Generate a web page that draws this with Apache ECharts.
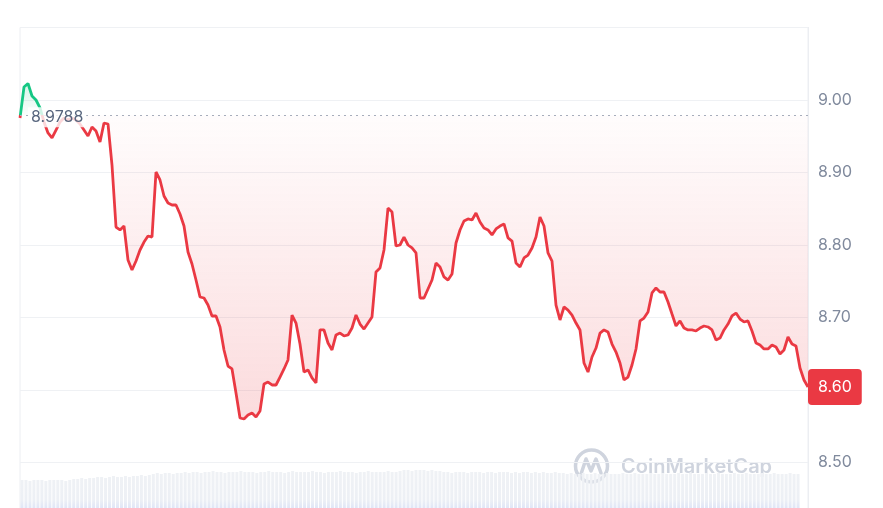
<!DOCTYPE html>
<html><head><meta charset="utf-8">
<script src="https://cdn.jsdelivr.net/npm/echarts@6/dist/echarts.min.js"></script>
<style>html,body{margin:0;padding:0;background:#fff}#c{width:883px;height:508px}</style>
</head><body><div id="c"></div>
<script>
// price values (one every ~4px of the original chart)
const prices = [
8.9752, 9.0179, 9.0228, 9.0055, 9.0000, 8.9890, 8.9697, 8.9545, 8.9476, 8.9586,
8.9697, 8.9752, 8.9724, 8.9752, 8.9724, 8.9669, 8.9586, 8.9503, 8.9628, 8.9572,
8.9421, 8.9683, 8.9669, 8.9103, 8.8248, 8.8207, 8.8262, 8.7793, 8.7655, 8.7779,
8.7931, 8.8041, 8.8124, 8.8110, 8.9007, 8.8897, 8.8676, 8.8579, 8.8552, 8.8552,
8.8428, 8.8262, 8.7903, 8.7738, 8.7517, 8.7283, 8.7269, 8.7172, 8.7021, 8.7021,
8.6869, 8.6552, 8.6331, 8.6290, 8.5959, 8.5614, 8.5600, 8.5655, 8.5683, 8.5628,
8.5710, 8.6083, 8.6110, 8.6069, 8.6069, 8.6179, 8.6290, 8.6414, 8.7034, 8.6924,
8.6634, 8.6248, 8.6276, 8.6166, 8.6097, 8.6828, 8.6828, 8.6648, 8.6552, 8.6759,
8.6786, 8.6745, 8.6759, 8.6855, 8.7034, 8.6910, 8.6841, 8.6924, 8.7007, 8.7628,
8.7683, 8.7931, 8.8510, 8.8455, 8.7986, 8.8000, 8.8110, 8.8000, 8.7959, 8.7890,
8.7269, 8.7269, 8.7393, 8.7517, 8.7752, 8.7697, 8.7559, 8.7517, 8.7600, 8.8028,
8.8207, 8.8331, 8.8359, 8.8345, 8.8441, 8.8317, 8.8234, 8.8207, 8.8138, 8.8221,
8.8262, 8.8290, 8.8097, 8.8055, 8.7752, 8.7697, 8.7821, 8.7862, 8.7959, 8.8110,
8.8386, 8.8262, 8.7890, 8.7779, 8.7172, 8.6966, 8.7145, 8.7103, 8.7034, 8.6924,
8.6828, 8.6372, 8.6248, 8.6455, 8.6579, 8.6786, 8.6828, 8.6800, 8.6634, 8.6524,
8.6372, 8.6138, 8.6179, 8.6345, 8.6566, 8.6952, 8.6993, 8.7076, 8.7338, 8.7407,
8.7352, 8.7352, 8.7214, 8.7048, 8.6883, 8.6952, 8.6855, 8.6828, 8.6828, 8.6814,
8.6855, 8.6883, 8.6869, 8.6828, 8.6690, 8.6717, 8.6828, 8.6910, 8.7021, 8.7062,
8.6979, 8.6938, 8.6952, 8.6814, 8.6648, 8.6621, 8.6566, 8.6566, 8.6621, 8.6593,
8.6497, 8.6552, 8.6731, 8.6634, 8.6607, 8.6303, 8.6138, 8.6042
];
// volume values (relative units)
const volumes = [
28,28,27,28,28,28,27,28,28,28,28,27,28,
29,29,30,29,30,30,
31,31,30,31,32,31,31,32,31,32,32,33,32,33,
34,35,34,35,35,34,35,35,36,35,
36,36,35,36,36,37,36,36,35,36, 36,36,37,36,36,36,35,36,36,37,
36,36,36,35,36,37,36,36,36,36, 37,36,36,35,36,36,36,37,36,36,
36,35,36,36,37,36,36,36,36,37, 36,36,37,
38,38,37,38,38,38,37,38,37,37,
36,36,35,36,36,36,35,36,36,36, 35,36,36,35,36,36,36,35,36,35,
36,36,35,36,35,36,35,35,36,35,
35,34,35,34,34,35,34,34,35,34, 34,35,34,34,34,35,34,34,35,34,
34,34,35,34,34,35,34,34,34,35, 34,34,35,34,34,34,35,34,34,35,
34,34,34,35,34,34,35,34,34,34, 35,34,34,35,34,34,34,35,34,34,
0,0
];
const baseline = 8.9788;
const yMin = 8.4, yMax = 9.1, yInterval = 0.1;
const categories = prices.map((_, i) => i);
const lastPrice = prices[prices.length - 1];

const RED = '#ea3943', GREEN = '#16c784';
const chart = echarts.init(document.getElementById('c'));

const option = {
  animation: false,
  grid: [
    {left: 20, right: 75, top: 27.5, height: 507.5, outerBoundsMode: 'none', containLabel: false,
     show: true, borderColor: '#eceef2', borderWidth: 1},
    {left: 20, right: 75, top: 460, height: 48, outerBoundsMode: 'none', containLabel: false}
  ],
  xAxis: [
    {type: 'category', data: categories, boundaryGap: false, show: false, gridIndex: 0},
    {type: 'category', data: categories, boundaryGap: true, show: false, gridIndex: 1}
  ],
  yAxis: [
    {type: 'value', gridIndex: 0, position: 'right', min: yMin, max: yMax, interval: yInterval,
     axisLine: {show: true, lineStyle: {color: '#eceef2'}}, axisTick: {show: false},
     splitLine: {lineStyle: {color: '#eff1f4', width: 1}},
     axisLabel: {margin: 10, color: '#808a9d', fontSize: 16, fontFamily: 'Inter',
       formatter: v => v.toFixed(2), showMaxLabel: false, showMinLabel: false}},
    {type: 'value', gridIndex: 1, min: 0, max: 48, show: false}
  ],
  visualMap: {type: 'piecewise', show: false, seriesIndex: 0, dimension: 1,
    pieces: [{gte: yMin, lt: baseline, color: RED}, {gte: baseline, lte: yMax, color: GREEN}],
    outOfRange: {color: RED}},
  series: [
    {type: 'line', xAxisIndex: 0, yAxisIndex: 0, data: prices, showSymbol: false, symbol: 'none',
     silent: true, z: 3, lineStyle: {width: 2.8},
     areaStyle: {origin: baseline, color: 'rgba(234,57,67,0.1)'}},
    {type: 'bar', xAxisIndex: 1, yAxisIndex: 1, data: volumes, barCategoryGap: '25%', silent: true, z: 1,
     itemStyle: {color: new echarts.graphic.LinearGradient(0, 466, 0, 508, [
       {offset: 0, color: '#f0f2f5'}, {offset: 0.8, color: '#edf0f5'}, {offset: 1, color: '#e0e6f7'}], true)}},
    {type: 'line', xAxisIndex: 0, yAxisIndex: 0, data: [], z: 10, silent: true, symbol: 'none',
     markLine: {silent: true, symbol: 'none', precision: 4, animation: false,
       data: [
         {yAxis: baseline,
          lineStyle: {type: [2, 4], color: '#a6adbb', width: 1, opacity: 1},
          label: {position: 'insideStartTop', distance: [8, -12], formatter: () => String(baseline),
            color: '#58667e', fontSize: 16, fontFamily: 'Inter',
            backgroundColor: 'rgba(255,255,255,0.8)', padding: [2, 3]}},
         {yAxis: lastPrice,
          lineStyle: {color: 'rgba(0,0,0,0)', width: 1},
          label: {show: true, position: 'end', distance: 0, formatter: () => lastPrice.toFixed(2),
            color: '#fff', backgroundColor: RED, borderRadius: 4, padding: [10, 10],
            fontSize: 16, lineHeight: 16, fontFamily: 'Inter'}}
       ]}}
  ],
  graphic: [
    {type: 'circle', silent: true, z: 0, shape: {cx: 591.5, cy: 466, r: 16}, style: {fill: 'none', stroke: '#cfd4de', lineWidth: 3.5}},
    {type: 'polyline', silent: true, z: 0, shape: {points: [[581, 474], [586, 459], [591, 471], [596, 459], [601, 473]]},
     style: {fill: 'none', stroke: '#cfd4de', lineWidth: 3.5, lineJoin: 'round', lineCap: 'round'}},
    {type: 'text', silent: true, z: 0, x: 621, y: 467, style: {text: 'CoinMarketCap', font: '600 20px Inter', fill: '#cfd4de', verticalAlign: 'middle'}}
  ]
};
chart.setOption(option);

// area gradient in pixel space so that it fades towards the baseline
const yTop = chart.convertToPixel({yAxisIndex: 0}, Math.max(...prices));
const yBase = chart.convertToPixel({yAxisIndex: 0}, baseline);
const yBot = chart.convertToPixel({yAxisIndex: 0}, Math.min(...prices));
const off = (yBase - yTop) / (yBot - yTop);
chart.setOption({series: [{areaStyle: {color: new echarts.graphic.LinearGradient(0, yTop, 0, yBot, [
  {offset: 0, color: 'rgba(22,199,132,0.25)'},
  {offset: off, color: 'rgba(22,199,132,0.03)'},
  {offset: off, color: 'rgba(234,57,67,0.02)'},
  {offset: 1, color: 'rgba(234,57,67,0.26)'}], true)}}]});
</script>
</body></html>
